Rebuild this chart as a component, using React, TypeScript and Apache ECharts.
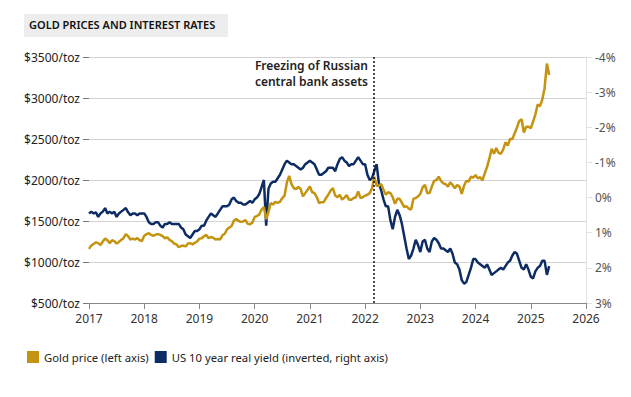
import React, { useEffect, useRef } from "react";
import * as echarts from "echarts";

// Half-monthly observations (1st and 16th of each month), Jan 2017 – May 2025
const START_YEAR = 2017;
const STEPS_PER_YEAR = 24;

// Gold price, $/toz (left axis)
const goldPrice: number[] = [
  // 2017
  1160, 1200, 1220, 1240, 1230, 1205, 1250, 1285, 1265, 1230, 1265, 1255,
  1225, 1245, 1270, 1290, 1340, 1315, 1275, 1285, 1275, 1290, 1265, 1255,
  // 2018
  1320, 1340, 1350, 1330, 1320, 1335, 1340, 1330, 1315, 1290, 1300, 1270,
  1255, 1225, 1215, 1180, 1195, 1200, 1190, 1225, 1230, 1215, 1235, 1250,
  // 2019
  1285, 1290, 1315, 1330, 1290, 1305, 1295, 1275, 1280, 1275, 1325, 1345,
  1400, 1420, 1440, 1505, 1525, 1500, 1490, 1495, 1510, 1465, 1460, 1480,
  // 2020
  1550, 1560, 1580, 1640, 1670, 1520, 1610, 1720, 1700, 1735, 1720, 1735,
  1780, 1810, 1970, 2050, 1950, 1900, 1890, 1915, 1890, 1800, 1840, 1880,
  // 2021
  1920, 1850, 1840, 1790, 1720, 1730, 1730, 1780, 1820, 1870, 1900, 1810,
  1790, 1820, 1760, 1785, 1815, 1760, 1760, 1780, 1790, 1860, 1780, 1790,
  // 2022
  1810, 1820, 1840, 1900, 2040, 1930, 1930, 1950, 1880, 1820, 1850, 1840,
  1790, 1710, 1770, 1770, 1720, 1670, 1680, 1650, 1640, 1770, 1780, 1800,
  // 2023
  1830, 1910, 1940, 1840, 1840, 1920, 1990, 2000, 2040, 1990, 1960, 1950,
  1920, 1970, 1940, 1900, 1940, 1920, 1830, 1930, 1990, 1980, 2040, 2030,
  // 2024
  2060, 2020, 2035, 1995, 2080, 2160, 2260, 2380, 2320, 2390, 2330, 2320,
  2370, 2460, 2420, 2500, 2500, 2570, 2640, 2720, 2740, 2580, 2650, 2650,
  // 2025
  2630, 2710, 2800, 2920, 2900, 2980, 3120, 3420, 3280,
];

// US 10 year real yield, % (right axis, inverted)
const realYield: number[] = [
  // 2017
  0.45, 0.4, 0.45, 0.42, 0.55, 0.45, 0.4, 0.3, 0.45, 0.4, 0.45, 0.4,
  0.55, 0.45, 0.4, 0.35, 0.3, 0.42, 0.5, 0.45, 0.45, 0.5, 0.45, 0.45,
  // 2018
  0.45, 0.55, 0.7, 0.75, 0.75, 0.7, 0.7, 0.8, 0.85, 0.75, 0.75, 0.7,
  0.75, 0.75, 0.75, 0.75, 0.85, 0.9, 1.05, 1.1, 1.15, 1.05, 0.95, 0.95,
  // 2019
  0.9, 0.8, 0.8, 0.65, 0.55, 0.45, 0.5, 0.55, 0.45, 0.35, 0.25, 0.25,
  0.25, 0.2, 0.05, 0.0, 0.1, 0.15, 0.15, 0.2, 0.2, 0.15, 0.1, 0.15,
  // 2020
  0.05, 0.0, -0.1, -0.3, -0.5, 0.8, -0.25, -0.4, -0.45, -0.45, -0.55, -0.65,
  -0.8, -0.95, -1.05, -1.0, -0.95, -0.95, -0.9, -0.85, -0.8, -0.85, -0.95, -1.0,
  // 2021
  -1.05, -1.0, -0.95, -0.8, -0.65, -0.65, -0.7, -0.75, -0.85, -0.85, -0.85, -0.75,
  -0.95, -1.1, -1.15, -1.05, -1.0, -0.9, -0.95, -0.95, -1.05, -1.15, -1.05, -0.95,
  // 2022
  -0.95, -0.65, -0.5, -0.55, -0.75, -0.95, -0.4, -0.2, 0.05, 0.25, 0.25, 0.65,
  0.9, 0.55, 0.35, 0.5, 0.75, 1.1, 1.45, 1.75, 1.65, 1.45, 1.2, 1.35,
  // 2023
  1.55, 1.25, 1.2, 1.45, 1.55, 1.25, 1.15, 1.2, 1.3, 1.45, 1.45, 1.5,
  1.55, 1.45, 1.6, 1.85, 1.9, 2.05, 2.35, 2.45, 2.4, 2.2, 2.0, 1.75,
  // 2024
  1.75, 1.85, 1.9, 1.95, 2.0, 1.9, 2.05, 2.2, 2.15, 2.1, 2.05, 2.0,
  2.05, 1.95, 1.85, 1.8, 1.65, 1.55, 1.6, 1.8, 2.0, 2.05, 1.9, 2.05,
  // 2025
  2.25, 2.3, 2.1, 2.0, 1.95, 1.8, 1.8, 2.2, 1.95,
];

const yearTicks = [2017, 2018, 2019, 2020, 2021, 2022, 2023, 2024, 2025, 2026];
const priceTicks = [500, 1000, 1500, 2000, 2500, 3000, 3500];
const yieldTicks = [-4, -3, -2, -1, 0, 1, 2, 3];
const sanctionsDate = 2022.16; // 28 Feb 2022

const GOLD = "#C4930F";
const NAVY = "#0D2C64";
const FONT = "Noto Sans";

const toTime = (i: number) => START_YEAR + i / STEPS_PER_YEAR;

export default function App() {
  const ref = useRef<HTMLDivElement>(null);

  useEffect(() => {
    if (!ref.current) return;
    const chart = echarts.init(ref.current, undefined, { renderer: "svg" });
    const option: any = {
      animation: false,
      textStyle: { fontFamily: FONT },
      grid: { left: 89, right: 45, top: 57, bottom: 94 },
      legend: {
        left: 22,
        top: 346,
        icon: "rect",
        itemWidth: 12,
        itemHeight: 12,
        itemGap: 6,
        textStyle: { fontSize: 11.3, color: "#222", fontFamily: FONT },
        data: ["Gold price (left axis)", "US 10 year real yield (inverted, right axis)"],
      },
      graphic: [
        {
          type: "rect",
          left: 24,
          top: 14,
          shape: { width: 204, height: 23 },
          style: { fill: "#EDEDED" },
        },
        {
          type: "text",
          left: 29,
          top: 19,
          style: {
            text: "GOLD PRICES AND INTEREST RATES",
            font: `600 11px "${FONT}"`,
            fill: "#111",
          },
        },
        {
          type: "text",
          right: 631 - 368,
          top: 59,
          style: {
            text: "Freezing of Russian",
            font: `600 12px "${FONT}"`,
            fill: "#222",
            align: "right",
          },
        },
        {
          type: "text",
          right: 631 - 368,
          top: 75,
          style: {
            text: "central bank assets",
            font: `600 12px "${FONT}"`,
            fill: "#222",
            align: "right",
          },
        },
      ],
      xAxis: {
        type: "value",
        min: yearTicks[0],
        max: yearTicks[yearTicks.length - 1],
        interval: 1,
        axisLine: { show: true, onZero: false, lineStyle: { color: "#888", width: 1 } },
        axisTick: { show: true, length: 6, lineStyle: { color: "#888" } },
        axisLabel: { color: "#333", fontSize: 12, margin: 9, formatter: (v: number) => String(v) },
        splitLine: { show: false },
      },
      yAxis: [
        {
          type: "value",
          min: priceTicks[0],
          max: priceTicks[priceTicks.length - 1],
          interval: 500,
          axisLine: { show: false },
          axisTick: { show: true, length: 6, lineStyle: { color: "#777" } },
          axisLabel: { color: "#222", fontSize: 12, margin: 9, formatter: (v: number) => `$${v}/toz` },
          splitLine: { show: true, lineStyle: { color: "#D2D2D2", width: 1 } },
        },
        {
          type: "value",
          position: "right",
          inverse: true,
          min: yieldTicks[0],
          max: yieldTicks[yieldTicks.length - 1],
          interval: 1,
          axisLine: { show: true, onZero: false, lineStyle: { color: "#E2E2E2", width: 1 } },
          axisTick: { show: true, length: 6, lineStyle: { color: "#E2E2E2" } },
          axisLabel: { color: "#555", fontSize: 12, margin: 9, formatter: (v: number) => `${v}%` },
          splitLine: { show: false },
        },
      ],
      series: [
        {
          name: "Gold price (left axis)",
          type: "line",
          yAxisIndex: 0,
          showSymbol: false,
          symbol: "none",
          color: GOLD,
          lineStyle: { color: GOLD, width: 2.5 },
          data: goldPrice.map((v, i) => [toTime(i), v]),
          markLine: {
            silent: true,
            symbol: "none",
            label: { show: false },
            lineStyle: { color: "#111", type: [2, 2], width: 1.5 },
            data: [{ xAxis: sanctionsDate }],
          },
          z: 3,
        },
        {
          name: "US 10 year real yield (inverted, right axis)",
          type: "line",
          yAxisIndex: 1,
          showSymbol: false,
          symbol: "none",
          color: NAVY,
          lineStyle: { color: NAVY, width: 2.5 },
          data: realYield.map((v, i) => [toTime(i), v]),
          z: 2,
        },
      ],
    };
    chart.setOption(option);
    return () => chart.dispose();
  }, []);

  return <div ref={ref} style={{ width: 631, height: 397, position: "absolute", left: 0, top: 0 }} />;
}
